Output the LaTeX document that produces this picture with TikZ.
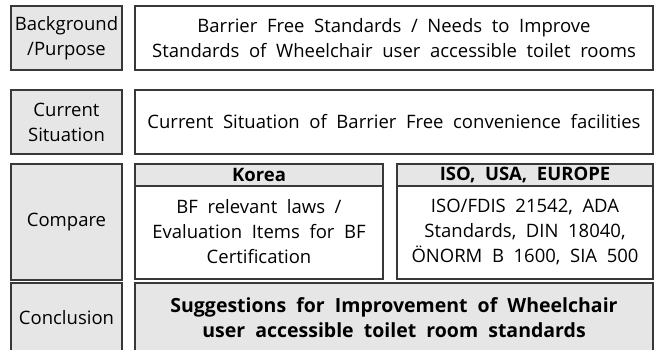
\documentclass[tikz,border=0pt]{standalone}
\usepackage{fontspec}
\setmainfont[WordSpace=2.0]{Open Sans}
\definecolor{panelgray}{HTML}{E6E6E6}
\definecolor{edgegray}{HTML}{383838}
\begin{document}
\begin{tikzpicture}[x=1pt,y=-1pt,
  box/.style={draw=edgegray, line width=1.2pt, inner sep=0pt, align=center,
    font=\fontsize{18.5}{25}\selectfont},
  labelbox/.style={box, fill=panelgray, minimum width=111pt},
  textbox/.style={box, fill=white},
  headbox/.style={box, fill=panelgray, font=\fontsize{18.5}{20}\selectfont\bfseries},
]
\clip (0,0) rectangle (656,349);
\useasboundingbox (0,0) rectangle (656,349);

% left-hand stage labels
\node[labelbox, minimum height=64pt] (bg) at (66.5,38) {Background\\/Purpose};
\node[labelbox, minimum height=64pt] (cs) at (66.5,122) {Current\\Situation};
\node[labelbox, minimum height=116pt] (cmp) at (66.5,222) {Compare};
\node[labelbox, minimum height=70pt] (con) at (66.5,318) {Conclusion};

% right-hand contents
\node[textbox, minimum width=518pt, minimum height=64pt] (bgtxt) at (394,38)
  {Barrier Free Standards / Needs to Improve\\Standards of Wheelchair user accessible toilet rooms};
\node[textbox, minimum width=518pt, minimum height=64pt] (cstxt) at (394,122)
  {Current Situation of Barrier Free convenience facilities};

% comparison columns
\node[textbox, minimum width=248pt, minimum height=94pt] (kbody) at (259,232)
  {BF relevant laws /\\Evaluation Items for BF\\Certification};
\node[headbox, minimum width=248pt, minimum height=22pt] (khead) at (259,175) {Korea};
\node[textbox, minimum width=256pt, minimum height=94pt] (ibody) at (525,232)
  {ISO/FDIS 21542, ADA\\Standards, DIN 18040,\\ÖNORM B 1600, SIA 500};
\node[headbox, minimum width=256pt, minimum height=22pt] (ihead) at (525,175) {ISO, USA, EUROPE};

% conclusion
\node[labelbox, minimum width=518pt, minimum height=70pt, font=\fontsize{19.5}{25}\selectfont\bfseries] (contxt) at (394,318)
  {Suggestions for Improvement of Wheelchair\\user accessible toilet room standards};
\end{tikzpicture}
\end{document}
